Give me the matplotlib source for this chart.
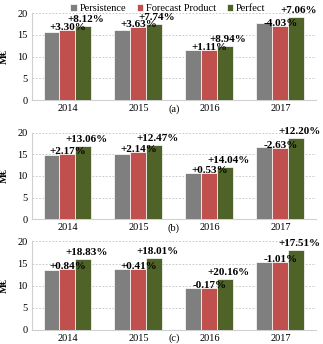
import matplotlib.pyplot as plt
import numpy as np

plt.rcParams['font.family'] = ['Liberation Serif', 'DejaVu Sans']

years = ['2014', '2015', '2016', '2017']
series_names = ['Persistence', 'Forecast Product', 'Perfect']
colors = ['#7f7f7f', '#c0504d', '#4f6228']
panel_tags = ['(a)', '(b)', '(c)']

# panel (a)
persist_a = [15.7, 16.2, 11.4, 17.8]
forecast_a = [16.2, 16.8, 11.5, 17.1]
perfect_a = [17.0, 17.5, 12.4, 19.1]
fc_lbl_a = ['+3.30%', '+3.63%', '+1.11%', '-4.03%']
pf_lbl_a = ['+8.12%', '+7.74%', '+8.94%', '+7.06%']

# panel (b)
persist_b = [14.9, 15.2, 10.6, 16.8]
forecast_b = [15.2, 15.5, 10.7, 16.4]
perfect_b = [16.9, 17.1, 12.1, 18.8]
fc_lbl_b = ['+2.17%', '+2.14%', '+0.53%', '-2.63%']
pf_lbl_b = ['+13.06%', '+12.47%', '+14.04%', '+12.20%']

# panel (c)
persist_c = [13.6, 13.8, 9.55, 15.45]
forecast_c = [13.7, 13.85, 9.5, 15.3]
perfect_c = [16.1, 16.3, 11.5, 18.1]
fc_lbl_c = ['+0.84%', '+0.41%', '-0.17%', '-1.01%']
pf_lbl_c = ['+18.83%', '+18.01%', '+20.16%', '+17.51%']

panels = [
    (persist_a, forecast_a, perfect_a, fc_lbl_a, pf_lbl_a),
    (persist_b, forecast_b, perfect_b, fc_lbl_b, pf_lbl_b),
    (persist_c, forecast_c, perfect_c, fc_lbl_c, pf_lbl_c),
]

fig = plt.figure(figsize=(3.23, 3.44), dpi=100)
boxes = [(0.099, 0.709, 0.879, 0.253),
         (0.099, 0.363, 0.879, 0.251),
         (0.099, 0.042, 0.879, 0.256)]

x = np.arange(len(years))
w = 0.225
for box, tag, (p, f, q, fl, ql) in zip(boxes, panel_tags, panels):
    ax = fig.add_axes(box)
    bars = []
    for i, vals in enumerate([p, f, q]):
        b = ax.bar(x + (i - 1) * w, vals, w, color=colors[i], edgecolor='white',
                   linewidth=0.5, label=series_names[i], zorder=3)
        bars.append(b)
    for j in range(len(years)):
        ax.annotate(fl[j], (x[j], f[j]), xytext=(0, -1.5), textcoords='offset points',
                    ha='center', va='bottom', fontsize=8, fontweight='bold', zorder=5)
        ax.annotate(ql[j], (x[j] + w, q[j]), xytext=(2, 1.5), textcoords='offset points',
                    ha='center', va='bottom', fontsize=8, fontweight='bold', zorder=5)
    ax.set_xlim(-0.5, 3.5)
    ax.set_ylim(0, 20)
    ax.set_yticks([0, 5, 10, 15, 20])
    ax.set_xticks(x)
    ax.set_xticklabels(years)
    ax.tick_params(labelsize=7.5, length=0, pad=3)
    ax.yaxis.grid(True, linestyle=(0, (2, 2)), color='#bfbfbf', linewidth=0.6, zorder=0)
    for s in ['top', 'right']:
        ax.spines[s].set_visible(False)
    for s in ['left', 'bottom']:
        ax.spines[s].set_color('#d0d0d0')
        ax.spines[s].set_linewidth(0.8)
    ax.set_ylabel('M€', fontsize=7.5, fontweight='bold', labelpad=6)
    ax.annotate(tag, (1.5, 0), xycoords=('data', 'axes fraction'), xytext=(0, -3),
                textcoords='offset points', ha='center', va='top', fontsize=7.5)
    if tag == '(a)':
        handles = bars

fig.legend(handles, series_names, loc='upper center', bbox_to_anchor=(0.52, 1.015),
           ncol=3, frameon=False, fontsize=7.5, handlelength=0.6, handleheight=0.6,
           handletextpad=0.3, columnspacing=1.0)

fig.savefig('out.png', dpi=100)
